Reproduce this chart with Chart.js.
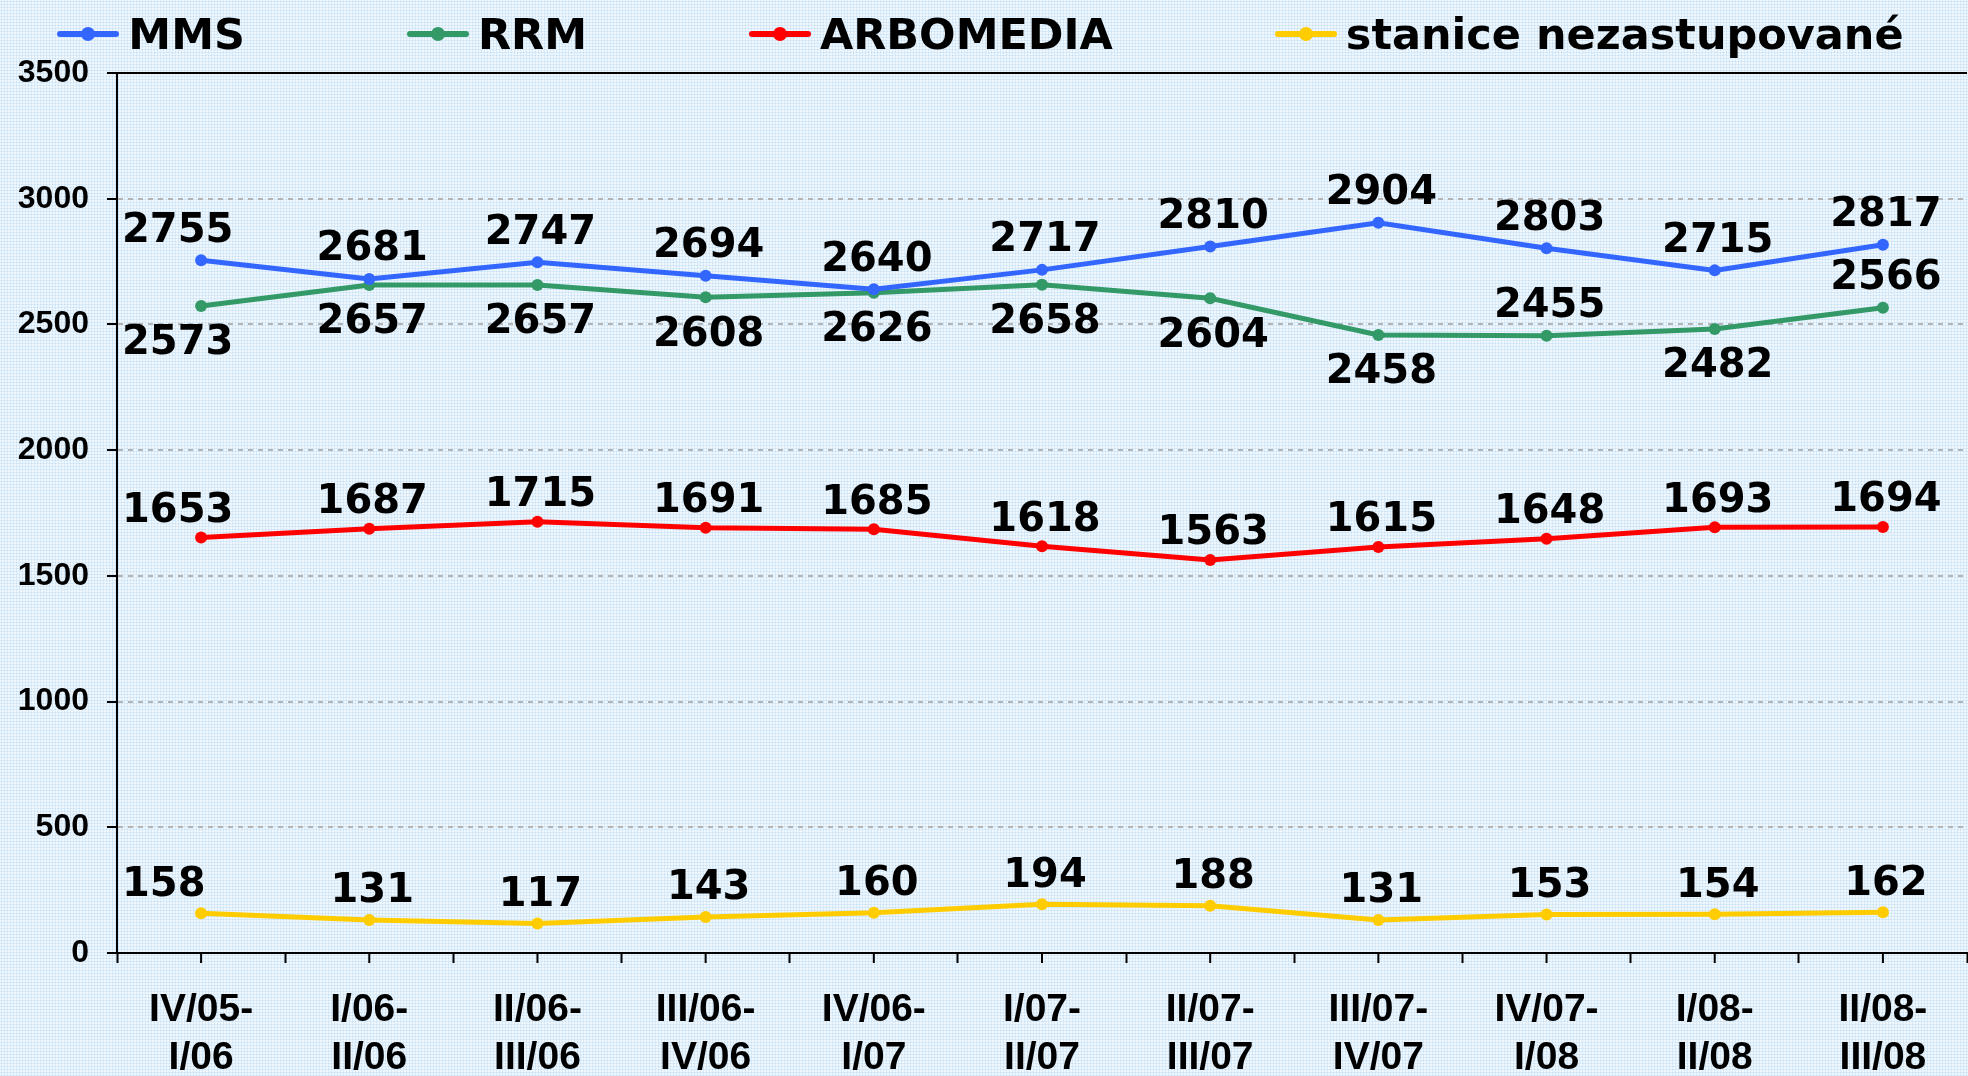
<!DOCTYPE html>
<html>
<head>
<meta charset="utf-8">
<title>Stanice – vývoj</title>
<script src="https://cdn.jsdelivr.net/npm/chart.js@4.4.1/dist/chart.umd.min.js"></script>
<style>
  html, body { margin: 0; padding: 0; }
  body {
    width: 1968px;
    height: 1076px;
    overflow: hidden;
    background-color: #eff7fd;
    background-image: radial-gradient(circle, #c6e1f6 0.8px, transparent 1.2px);
    background-size: 3px 3px;
  }
  /* plot runs a few px past the right edge, like the original */
  #wrap { position: relative; width: 1973px; height: 1076px; }
  #legend {
    position: absolute;
    top: 0; left: 0;
    width: 1968px; height: 68px;
    box-sizing: border-box;
    padding-right: 7px;
    display: flex;
    justify-content: center;
    align-items: center;
    gap: 162px;
    font: bold 43px "DejaVu Sans", Verdana, sans-serif;
    line-height: 1;
    color: #000;
    z-index: 2;
  }
  #legend .item { display: flex; align-items: center; gap: 9px; }
  #legend .swatch {
    position: relative;
    width: 62px; height: 6px;
    border-radius: 3px;
    background: currentColor;
  }
  #legend .swatch::after {
    content: "";
    position: absolute;
    left: 24px; top: -4px;
    width: 14px; height: 14px;
    border-radius: 50%;
    background: currentColor;
  }
</style>
</head>
<body>
<div id="wrap">
  <div id="legend"></div>
  <canvas id="chart"></canvas>
</div>
<script>
// --- data ---
const periods = [
  ["IV/05-", "I/06"], ["I/06-", "II/06"], ["II/06-", "III/06"], ["III/06-", "IV/06"],
  ["IV/06-", "I/07"], ["I/07-", "II/07"], ["II/07-", "III/07"], ["III/07-", "IV/07"],
  ["IV/07-", "I/08"], ["I/08-", "II/08"], ["II/08-", "III/08"]
];
const mms = [2755, 2681, 2747, 2694, 2640, 2717, 2810, 2904, 2803, 2715, 2817];
const rrm = [2573, 2657, 2657, 2608, 2626, 2658, 2604, 2458, 2455, 2482, 2566];
const arbomedia = [1653, 1687, 1715, 1691, 1685, 1618, 1563, 1615, 1648, 1693, 1694];
const nezastupovane = [158, 131, 117, 143, 160, 194, 188, 131, 153, 154, 162];

const yMin = 0;
const yMax = 3500;
const yStep = 500;

// RRM labels sit under the line, except where they would hit the MMS label
const rrmAboveAt = [8, 10];

// labelGap: distance of the value label from its point (negative = above)
const series = (label, data, color, labelGap) => ({
  label,
  data,
  borderColor: color,
  backgroundColor: color,
  pointBackgroundColor: color,
  pointBorderWidth: 0,
  pointRadius: 6,
  borderWidth: 5,
  tension: 0,
  fill: false,
  labelGap,
});

// --- value labels next to each point ---
const valueLabels = {
  id: "valueLabels",
  afterDatasetsDraw(chart) {
    const { ctx, chartArea } = chart;
    ctx.save();
    ctx.font = 'bold 40px "DejaVu Sans", Verdana, sans-serif';
    ctx.fillStyle = "#000";
    ctx.textBaseline = "middle";
    chart.data.datasets.forEach((ds, di) => {
      chart.getDatasetMeta(di).data.forEach((pt, i) => {
        let gap = ds.labelGap;
        if (gap > 0 && rrmAboveAt.includes(i)) gap = -29;
        const y = pt.y + gap;
        if (i === 0) {
          ctx.textAlign = "left";
          ctx.fillText(String(ds.data[i]), chartArea.left + 5, y);
        } else {
          ctx.textAlign = "center";
          ctx.fillText(String(ds.data[i]), pt.x + 3, y);
        }
      });
    });
    ctx.restore();
  },
};

// --- top frame line + tick marks under each category ---
const frame = {
  id: "frame",
  afterDraw(chart) {
    const { ctx, chartArea, scales: { x, y } } = chart;
    ctx.save();
    ctx.strokeStyle = "#000";
    ctx.lineWidth = 2;
    ctx.beginPath();
    const top = y.getPixelForValue(yMax);
    ctx.moveTo(chartArea.left, top);
    ctx.lineTo(chartArea.right, top);
    x.ticks.forEach((_, i) => {
      const px = x.getPixelForTick(i);
      ctx.moveTo(px, x.top);
      ctx.lineTo(px, x.top + 10);
    });
    ctx.stroke();
    ctx.restore();
  },
};

const axisFont = (size, lh) => ({
  family: '"Liberation Sans", Arial, sans-serif',
  weight: "bold",
  size,
  lineHeight: lh,
});

const chart = new Chart(document.getElementById("chart"), {
  type: "line",
  data: {
    labels: periods,
    datasets: [
      series("MMS", mms, "#3366FF", -29),
      series("RRM", rrm, "#339966", 38),
      series("ARBOMEDIA", arbomedia, "#FF0000", -26),
      series("stanice nezastupované", nezastupovane, "#FFCC00", -28),
    ],
  },
  options: {
    responsive: true,
    maintainAspectRatio: false,
    animation: false,
    layout: { padding: { top: 73, left: 0, right: 0, bottom: 0 } },
    plugins: {
      legend: { display: false },
      tooltip: { enabled: false },
    },
    scales: {
      x: {
        offset: true,
        grid: {
          offset: true,
          drawOnChartArea: false,
          tickLength: 10,
          tickColor: "#000",
          tickWidth: 2,
        },
        border: { color: "#000", width: 2 },
        ticks: {
          color: "#000",
          font: axisFont(39, 1.23),
          padding: 23,
          maxRotation: 0,
          autoSkip: false,
        },
        afterFit: (s) => { s.height = 123; },
      },
      y: {
        min: yMin,
        max: yMax,
        ticks: {
          stepSize: yStep,
          color: "#000",
          font: axisFont(32, 1.2),
          padding: 18,
          callback: (v) => String(v),
        },
        grid: {
          color: (c) =>
            c.tick && (c.tick.value === yMin || c.tick.value === yMax)
              ? "rgba(0,0,0,0)"
              : "#b4b4b4",
          lineWidth: 2,
          tickColor: "#000",
          tickLength: 10,
          tickWidth: 2,
        },
        border: { color: "#000", width: 2, dash: [5, 5] },
        afterFit: (s) => { s.width = 117; },
      },
    },
  },
  plugins: [frame, valueLabels],
});

// --- legend built from the datasets ---
const legendEl = document.getElementById("legend");
chart.data.datasets.forEach((ds) => {
  const item = document.createElement("div");
  item.className = "item";
  const sw = document.createElement("span");
  sw.className = "swatch";
  sw.style.color = ds.borderColor;
  const txt = document.createElement("span");
  txt.textContent = ds.label;
  item.appendChild(sw);
  item.appendChild(txt);
  legendEl.appendChild(item);
});
</script>
</body>
</html>
